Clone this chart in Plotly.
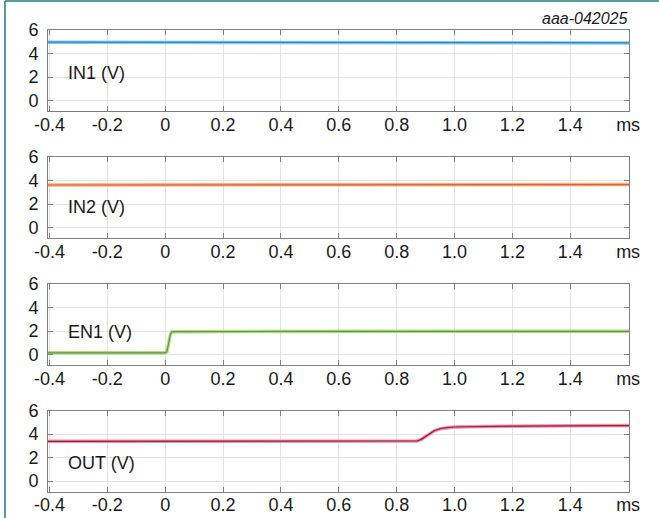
import plotly.graph_objects as go

# ---- measured traces (time in ms, level in V) ----
in1_t = [-0.405, -0.2, 0.0, 0.2, 0.4, 0.6, 0.8, 0.9, 1.0, 1.2, 1.4, 1.603]
in1_v = [4.97, 4.97, 4.96, 4.96, 4.95, 4.95, 4.94, 4.92, 4.93, 4.93, 4.92, 4.90]

in2_t = [-0.405, -0.2, 0.0, 0.2, 0.4, 0.6, 0.8, 1.0, 1.2, 1.4, 1.603]
in2_v = [3.62, 3.62, 3.63, 3.63, 3.63, 3.64, 3.65, 3.66, 3.66, 3.66, 3.66]

en1_t = [-0.405, -0.2, 0.0, 0.006, 0.012, 0.018, 0.023, 0.04, 0.4, 0.8, 1.2, 1.603]
en1_v = [0.15, 0.15, 0.15, 0.25, 1.0, 1.7, 1.93, 1.95, 1.97, 1.98, 1.98, 1.98]

out_t = [-0.405, 0.0, 0.4, 0.87, 0.885, 0.9, 0.915, 0.93, 0.95, 0.97, 1.0, 1.1, 1.2, 1.4, 1.603]
out_v = [3.38, 3.39, 3.40, 3.41, 3.55, 3.8, 4.05, 4.28, 4.45, 4.54, 4.6, 4.65, 4.68, 4.7, 4.72]

x_ticks = [-0.4, -0.2, 0, 0.2, 0.4, 0.6, 0.8, 1.0, 1.2, 1.4, 1.6]
x_text = ["-0.4", "-0.2", "0", "0.2", "0.4", "0.6", "0.8", "1.0", "1.2", "1.4", "ms"]
y_ticks = [0, 2, 4, 6]

labels = ["IN1 (V)", "IN2 (V)", "EN1 (V)", "OUT (V)"]
series = [(in1_t, in1_v), (in2_t, in2_v), (en1_t, en1_v), (out_t, out_v)]
band_colors = ["rgba(110,185,230,0.8)", "rgba(245,150,100,0.8)",
               "rgba(160,205,110,0.8)", "rgba(225,120,150,0.8)"]
core_colors = ["#1e8ccc", "#e8601e", "#5e9e2a", "#a8163c"]

W, H = 659, 518
plot_left, plot_right = 48, 629
panel_tops = [30, 157, 284, 410.5]
panel_h = 81
label_y_px = [73, 206.5, 331.5, 462.5]
FONT = "Liberation Sans, Arial, sans-serif"

fig = go.Figure()

for i, ((t, v), lab) in enumerate(zip(series, labels)):
    n = "" if i == 0 else str(i + 1)
    # noisy scope trace: light band with darker core
    fig.add_trace(go.Scatter(x=t, y=v, mode="lines", xaxis="x" + n, yaxis="y" + n,
                             line=dict(color=band_colors[i], width=3.5), hoverinfo="skip",
                             showlegend=False))
    fig.add_trace(go.Scatter(x=t, y=v, mode="lines", xaxis="x" + n, yaxis="y" + n,
                             line=dict(color=core_colors[i], width=1.2), name=lab,
                             showlegend=False))
    top = panel_tops[i]
    dom_y = [1 - (top + panel_h) / H, 1 - top / H]
    axis_common = dict(showline=True, mirror="allticks", linecolor="#7f7f7f", linewidth=1,
                       ticks="inside", ticklen=5, tickcolor="#7f7f7f", automargin=False,
                       showgrid=True, gridcolor="#e3e3e3", gridwidth=1, zeroline=False)
    fig.layout["xaxis" + n] = dict(axis_common, domain=[plot_left / W, plot_right / W],
                                   range=[-0.405, 1.603], tickmode="array",
                                   tickvals=x_ticks, ticktext=x_text,
                                   tickfont=dict(family=FONT, size=18, color="#1a1a1a"),
                                   ticklabelstandoff=-3,
                                   anchor="y" + n, fixedrange=True)
    fig.layout["yaxis" + n] = dict(axis_common, domain=dom_y, range=[-0.88, 6],
                                   tickmode="array", tickvals=y_ticks,
                                   ticktext=[str(k) for k in y_ticks],
                                   tickfont=dict(family=FONT, size=18, color="#1a1a1a"),
                                   ticklabelstandoff=5,
                                   anchor="x" + n, fixedrange=True)
    fig.add_annotation(xref="paper", yref="paper", x=66 / W, y=1 - label_y_px[i] / H,
                       text=lab, showarrow=False, xanchor="left", yanchor="middle",
                       font=dict(family=FONT, size=18, color="#1a1a1a"))

# figure identifier
fig.add_annotation(xref="paper", yref="paper", x=630 / W, y=1 - 18 / H,
                   text="<i>aaa-042025</i>", showarrow=False,
                   xanchor="right", yanchor="middle",
                   font=dict(family=FONT, size=16, color="#1a1a1a"))

# page frame lines (top and left)
fig.add_shape(type="line", xref="paper", yref="paper", x0=5 / W, x1=1, y0=1 - 1 / H,
              y1=1 - 1 / H, line=dict(color="#1f7c84", width=1.5))
fig.add_shape(type="line", xref="paper", yref="paper", x0=5 / W, x1=5 / W, y0=0,
              y1=1 - 1 / H, line=dict(color="#1f7c84", width=1.5))

fig.update_layout(width=W, height=H, margin=dict(l=0, r=0, t=0, b=0),
                  paper_bgcolor="white", plot_bgcolor="white", showlegend=False)

fig.write_html("out.html")
